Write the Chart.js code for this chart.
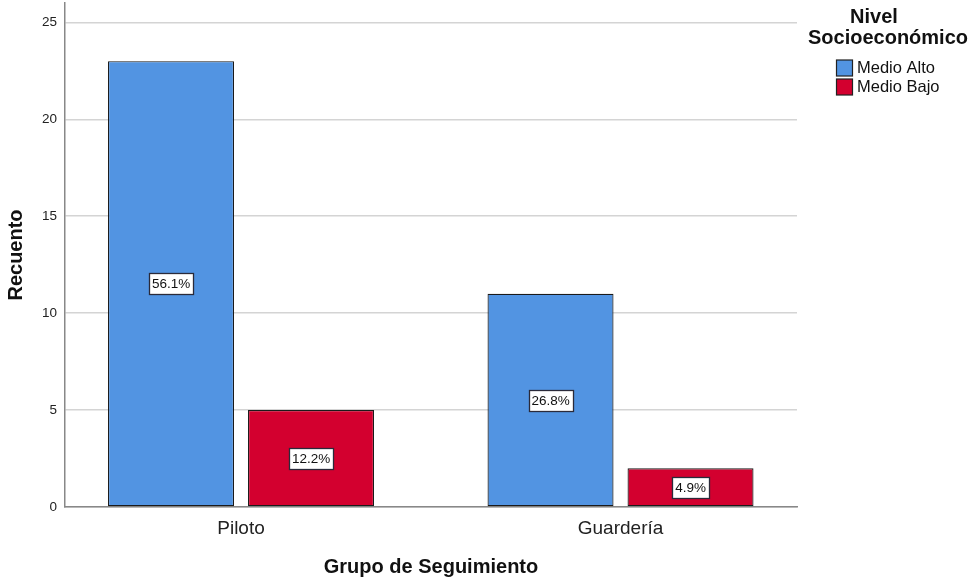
<!DOCTYPE html>
<html>
<head>
<meta charset="utf-8">
<script src="https://cdn.jsdelivr.net/npm/chart.js@4.4.0/dist/chart.umd.min.js"></script>
<style>
  html, body { margin: 0; padding: 0; background: #fff; }
  #wrap { width: 975px; height: 579px; position: relative; }
</style>
</head>
<body>
<div id="wrap"><canvas id="c" width="975" height="579"></canvas></div>
<script>
const categories = ['Piloto', 'Guardería'];
const seriesNames = ['Medio Alto', 'Medio Bajo'];
const medioAlto = [23, 11];
const medioBajo = [5, 2];
const medioAltoPct = ['56.1%', '26.8%'];
const medioBajoPct = ['12.2%', '4.9%'];
const yTicks = [0, 5, 10, 15, 20, 25];

const colors = ['#5294e2', '#d3002f'];
const FONT = '"Liberation Sans", Arial, sans-serif';

const pctLabels = [medioAltoPct, medioBajoPct];

const labelPlugin = {
  id: 'pctLabels',
  afterDatasetsDraw(chart) {
    const ctx = chart.ctx;
    ctx.save();
    ctx.font = '13.5px ' + FONT;
    ctx.textAlign = 'center';
    ctx.textBaseline = 'middle';
    chart.data.datasets.forEach((ds, di) => {
      const meta = chart.getDatasetMeta(di);
      meta.data.forEach((bar, i) => {
        const txt = pctLabels[di][i];
        const cx = bar.x;
        const cy = (bar.y + bar.base) / 2;
        const w = Math.round(ctx.measureText(txt).width + 6);
        const h = 21;
        const x0 = Math.round(cx - w / 2) + 0.5, y0 = Math.round(cy - h / 2) + 0.5;
        ctx.fillStyle = '#fff';
        ctx.fillRect(x0, y0, w, h);
        ctx.strokeStyle = '#2a2a3a';
        ctx.lineWidth = 1.3;
        ctx.strokeRect(x0, y0, w, h);
        ctx.fillStyle = '#111';
        ctx.fillText(txt, cx, cy + 1);
      });
    });
    ctx.restore();
  }
};

const legendPlugin = {
  id: 'customLegend',
  afterDraw(chart) {
    const ctx = chart.ctx;
    ctx.save();
    ctx.fillStyle = '#111';
    ctx.textAlign = 'center';
    ctx.textBaseline = 'middle';
    ctx.font = 'bold 20px ' + FONT;
    ctx.fillText('Nivel', 874, 17);
    ctx.fillText('Socioeconómico', 888, 38);
    ctx.textAlign = 'left';
    ctx.font = '16.5px ' + FONT;
    chart.data.datasets.forEach((ds, i) => {
      const y = 68 + i * 19;
      ctx.fillStyle = ds.backgroundColor;
      ctx.fillRect(836.5, y - 8, 16, 16);
      ctx.strokeStyle = '#222';
      ctx.lineWidth = 1.2;
      ctx.strokeRect(836.5, y - 8, 16, 16);
      ctx.fillStyle = '#111';
      ctx.fillText(ds.label, 857, y);
    });
    ctx.restore();
  }
};

const datasets = [medioAlto, medioBajo].map((vals, di) => ({
  label: seriesNames[di],
  data: vals.map((v, i) => ({ x: i, y: v })),
  backgroundColor: colors[di],
  borderColor: '#1a1a1a',
  borderWidth: 1.2,
  borderSkipped: false,
  categoryPercentage: 0.7378,
  barPercentage: 0.9
}));

new Chart(document.getElementById('c'), {
  type: 'bar',
  data: { datasets },
  options: {
    responsive: false,
    animation: false,
    devicePixelRatio: 1,
    layout: { padding: { left: 0, right: 178, top: 3, bottom: 0 } },
    plugins: { legend: { display: false }, tooltip: { enabled: false } },
    scales: {
      x: {
        type: 'linear',
        offset: false,
        min: -0.4638,
        max: 1.465,
        grid: { display: false, drawTicks: false, offset: false },
        border: { display: true, color: '#888', width: 1.5 },
        ticks: {
          stepSize: 1,
          includeBounds: false,
          autoSkip: false,
          padding: 10,
          color: '#222',
          font: { family: FONT, size: 19 },
          callback: (v) => (Number.isInteger(v) && categories[v] !== undefined) ? categories[v] : ''
        },
        title: {
          display: true,
          text: 'Grupo de Seguimiento',
          color: '#111',
          font: { family: FONT, size: 20, weight: 'bold' },
          padding: { top: 16, bottom: 0 }
        },
        afterFit(s) { s.height = 72; s.paddingLeft = 0; s.paddingRight = 0; }
      },
      y: {
        min: 0,
        max: 26,
        afterBuildTicks(s) { s.ticks = yTicks.map(v => ({ value: v })); },
        grid: { color: '#d4d4d4', lineWidth: 1.5, drawTicks: false },
        border: { display: true, color: '#888', width: 1.5 },
        ticks: {
          padding: 8,
          color: '#222',
          font: { family: FONT, size: 13.5 }
        },
        title: {
          display: true,
          text: 'Recuento',
          color: '#111',
          font: { family: FONT, size: 20, weight: 'bold' },
          padding: { top: 4, bottom: 10 }
        },
        afterFit(s) { s.width = 65; s.paddingTop = 0; s.paddingBottom = 0; }
      }
    }
  },
  plugins: [labelPlugin, legendPlugin]
});
</script>
</body>
</html>
